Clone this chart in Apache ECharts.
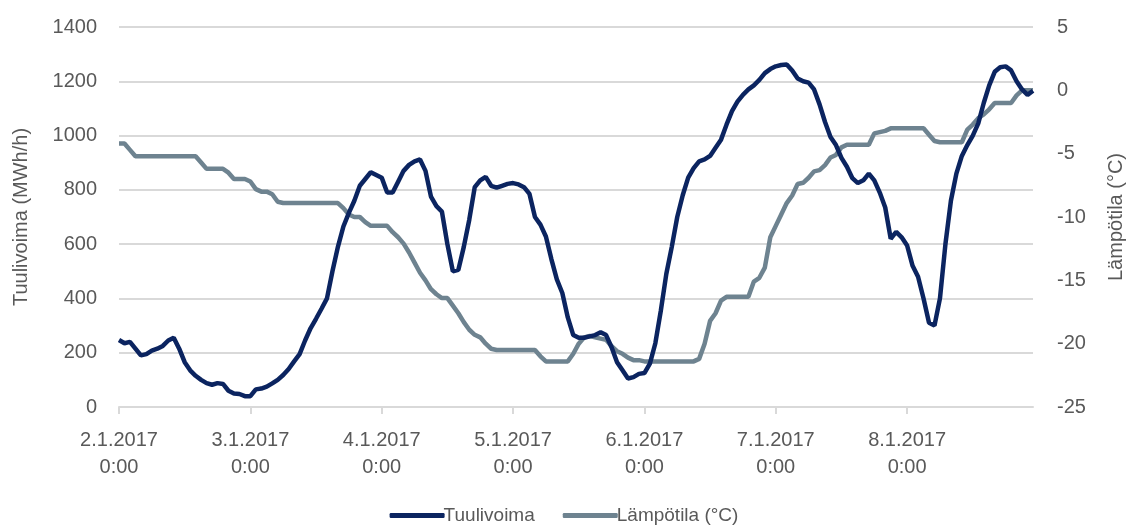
<!DOCTYPE html>
<html>
<head>
<meta charset="utf-8">
<script src="https://cdn.jsdelivr.net/npm/echarts@6/dist/echarts.min.js"></script>
<style>html,body{margin:0;padding:0;background:#fff}#c{width:1128px;height:530px}</style>
</head>
<body>
<div id="c"></div>
<script>
// Hourly data 2.1.2017 0:00 .. 8.1.2017 23:00
const days = ["2.1.2017","3.1.2017","4.1.2017","5.1.2017","6.1.2017","7.1.2017","8.1.2017"];
const windPower = [
 247,235,240,215,190,195,208,215,225,245,255,215,165,135,115,100,88,82,88,85,60,50,48,40,
 40,65,68,75,87,100,118,140,168,195,245,290,325,362,400,500,590,665,715,760,815,840,865,855,
 845,790,790,830,870,892,905,912,870,775,740,720,600,500,505,590,690,810,835,848,815,808,815,822,
 825,820,810,785,700,672,628,545,470,420,330,265,255,255,260,265,275,265,220,165,135,105,110,122,
 125,160,235,355,490,590,700,780,845,880,905,912,925,955,985,1040,1090,1125,1150,1170,1185,1205,1230,1245,
 1255,1260,1262,1240,1210,1200,1195,1170,1115,1050,995,965,918,885,843,825,835,860,835,790,735,620,645,625,
 595,520,480,400,310,300,400,600,760,860,925,965,1000,1045,1120,1185,1235,1252,1255,1240,1200,1170,1150,1165
];
const temperature = [
 -4.2,-4.2,-4.7,-5.2,-5.2,-5.2,-5.2,-5.2,-5.2,-5.2,-5.2,-5.2,-5.2,-5.2,-5.2,-5.7,-6.2,-6.2,-6.2,-6.2,-6.5,-7.0,-7.0,-7.0,
 -7.2,-7.8,-8.0,-8.0,-8.2,-8.8,-8.9,-8.9,-8.9,-8.9,-8.9,-8.9,-8.9,-8.9,-8.9,-8.9,-8.9,-9.3,-9.8,-10.0,-10.0,-10.4,-10.7,-10.7,
 -10.7,-10.7,-11.2,-11.6,-12.1,-12.8,-13.6,-14.4,-15.0,-15.7,-16.1,-16.4,-16.4,-17.0,-17.6,-18.3,-18.9,-19.3,-19.5,-20.0,-20.4,-20.5,-20.5,-20.5,
 -20.5,-20.5,-20.5,-20.5,-20.5,-21.0,-21.4,-21.4,-21.4,-21.4,-21.4,-20.8,-20.0,-19.5,-19.4,-19.5,-19.6,-19.7,-20.2,-20.6,-20.8,-21.1,-21.3,-21.3,
 -21.4,-21.4,-21.4,-21.4,-21.4,-21.4,-21.4,-21.4,-21.4,-21.4,-21.2,-20.0,-18.2,-17.6,-16.6,-16.3,-16.3,-16.3,-16.3,-16.3,-15.1,-14.8,-14.0,-11.6,
 -10.7,-9.8,-8.9,-8.3,-7.4,-7.3,-6.9,-6.4,-6.3,-5.9,-5.3,-5.1,-4.5,-4.3,-4.3,-4.3,-4.3,-4.3,-3.4,-3.3,-3.2,-3.0,-3.0,-3.0,
 -3.0,-3.0,-3.0,-3.0,-3.5,-4.0,-4.1,-4.1,-4.1,-4.1,-4.1,-3.1,-2.7,-2.2,-1.9,-1.5,-1.0,-1.0,-1.0,-1.0,-0.4,0,0,0
];
const seriesNames = ["Tuulivoima","Lämpötila (°C)"];
const leftAxisName = "Tuulivoima (MWh/h)";
const rightAxisName = "Lämpötila (°C)";

const categories = [];
days.forEach(d => { for (let h = 0; h < 24; h++) categories.push(d + " " + h + ":00"); });

const FONT = "Liberation Sans, Arial, sans-serif";
const TXT = "#595959";
const chart = echarts.init(document.getElementById('c'));
chart.setOption({
  animation: false,
  textStyle: {fontFamily: FONT},
  grid: {left: 119, right: 95, top: 27, bottom: 123, containLabel: false, outerBoundsMode: 'none'},
  legend: {
    bottom: 0, left: 'center', itemWidth: 55, itemHeight: 5, itemGap: 28,
    icon: 'roundRect',
    textStyle: {fontSize: 19, color: TXT, fontFamily: FONT, padding: [0,0,0,-6]},
    data: seriesNames
  },
  xAxis: {
    type: 'category', data: categories, boundaryGap: false,
    axisLine: {lineStyle: {color: '#d9d9d9', width: 2}},
    axisTick: {show: true, interval: (i) => i % 24 === 0, length: 7, lineStyle: {color: '#d9d9d9', width: 2}},
    axisLabel: {interval: (i) => i % 24 === 0, color: TXT, fontSize: 20, lineHeight: 27, margin: 20,
      formatter: v => v.replace(' ', '\n')},
    splitLine: {show: false}
  },
  yAxis: [{
    type: 'value', min: 0, max: 1400, interval: 200,
    name: leftAxisName, nameLocation: 'middle', nameGap: 88, nameRotate: 90,
    nameTextStyle: {fontSize: 20, color: TXT, fontFamily: FONT},
    axisLabel: {color: TXT, fontSize: 20, margin: 22, formatter: v => String(v)},
    axisLine: {show: false}, axisTick: {show: false},
    splitLine: {lineStyle: {color: '#d9d9d9', width: 2}}
  }, {
    type: 'value', min: -25, max: 5, interval: 5,
    name: rightAxisName, nameLocation: 'middle', nameGap: 73, nameRotate: 90,
    nameTextStyle: {fontSize: 20, color: TXT, fontFamily: FONT},
    axisLabel: {color: TXT, fontSize: 20, margin: 24},
    axisLine: {show: false}, axisTick: {show: false},
    splitLine: {show: false}
  }],
  series: [{
    name: seriesNames[0], type: 'line', data: windPower, yAxisIndex: 0,
    symbol: 'none', smooth: false, lineStyle: {color: '#0b2460', width: 4.5}, itemStyle: {color: '#0b2460'}, z: 3
  }, {
    name: seriesNames[1], type: 'line', data: temperature, yAxisIndex: 1,
    symbol: 'none', lineStyle: {color: '#6e8390', width: 4.5}, itemStyle: {color: '#6e8390'}, z: 2
  }]
});
</script>
</body>
</html>
